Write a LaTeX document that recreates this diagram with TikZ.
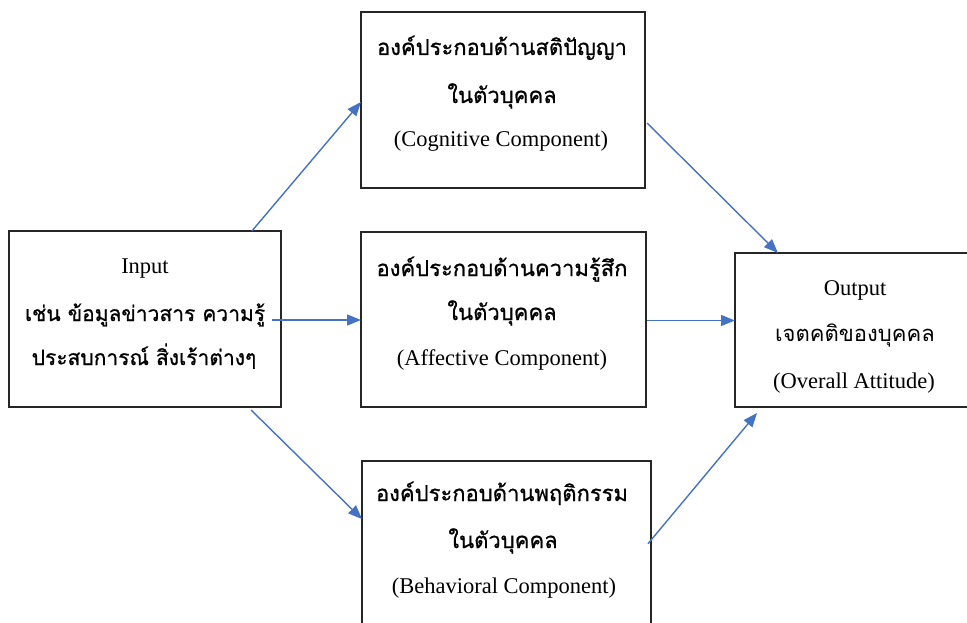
\documentclass[tikz,border=0pt]{standalone}
\usepackage{fontspec}
\setmainfont{Liberation Serif}
\newfontfamily\thai[Script=Thai,FakeBold=0.8]{Loma}
\newfontfamily\thaireg[Script=Thai]{Loma}
\usetikzlibrary{arrows.meta,calc}
\definecolor{arrblue}{RGB}{68,114,196}
\begin{document}
\begin{tikzpicture}[x=1pt,y=-1pt,
  box/.style={draw=black!85,line width=1.5pt,inner sep=0pt,outer sep=0pt},
  lat/.style={anchor=base,inner sep=0pt,font=\fontsize{22.5}{27}\selectfont},
  th/.style={anchor=base,inner sep=0pt,font=\fontsize{22}{27}\selectfont\thai},
  thin/.style={anchor=base,inner sep=0pt,font=\fontsize{21}{27}\selectfont\thai},
  threg/.style={anchor=base,inner sep=0pt,font=\fontsize{22}{27}\selectfont\thaireg},
  arr/.style={draw=arrblue,line width=1.4pt,-{Triangle[length=14pt,width=11pt]}}
]
\useasboundingbox (0,0) rectangle (967,623);
% boxes
\node[box,minimum width=272pt,minimum height=176pt] (in) at (145,319) {};
\node[box,minimum width=284pt,minimum height=176pt] (cog) at (503,100) {};
\node[box,minimum width=285pt,minimum height=175pt] (aff) at (503.5,319.5) {};
\node[box,minimum width=289pt,minimum height=176pt] (beh) at (506.5,549) {};
\node[box,minimum width=240pt,minimum height=154pt] (out) at (855,330) {};
% texts
\node[lat] (inA) at (145,273) {Input};
\node[thin] (inB) at (145,321) {เช่น ข้อมูลข่าวสาร ความรู้};
\node[thin] (inC) at (144,365) {ประสบการณ์ สิ่งเร้าต่างๆ};
\node[th] (cogA) at (502,55) {องค์ประกอบด้านสติปัญญา};
\node[th] (cogB) at (502,103) {ในตัวบุคคล};
\node[lat] (cogC) at (501,147) {(Cognitive Component)};
\node[th] (affA) at (502,276) {องค์ประกอบด้านความรู้สึก};
\node[th] (affB) at (502,320) {ในตัวบุคคล};
\node[lat] (affC) at (502,365) {(Affective Component)};
\node[th] (behA) at (502,501) {องค์ประกอบด้านพฤติกรรม};
\node[th] (behB) at (503,548) {ในตัวบุคคล};
\node[lat] (behC) at (504,593) {(Behavioral Component)};
\node[lat] (outA) at (855,295) {Output};
\node[threg] (outB) at (855,341) {เจตคติของบุคคล};
\node[lat] (outC) at (854,388) {(Overall Attitude)};
% arrows
\coordinate (s1) at ($(in.north west)!0.893!(in.north east)$);
\coordinate (s2) at ($(in.east)+(-9,1)$);
\coordinate (s3) at ($(in.south west)!0.89!(in.south east)+(0,3)$);
\coordinate (t3) at ($(beh.north west)!0.33!(beh.south west)$);
\coordinate (s4) at ($(cog.east)+(2,23)$);
\coordinate (t4) at ($(out.north west)!0.179!(out.north east)$);
\coordinate (s6) at ($(beh.north east)!0.47!(beh.south east)+(-3,0)$);
\coordinate (t6) at ($(out.south west)+(22,6)$);
\draw[arr] (s1) -- ($(cog.west)+(0,2)$);
\draw[arr] (s2) -- (s2 -| aff.west);
\draw[arr] (s3) -- (t3);
\draw[arr] (s4) -- (t4);
\draw[arr] ($(aff.east)+(1,1)$) -- ($(aff.east -| out.west)+(0,1)$);
\draw[arr] (s6) -- (t6);
\end{tikzpicture}
\end{document}
